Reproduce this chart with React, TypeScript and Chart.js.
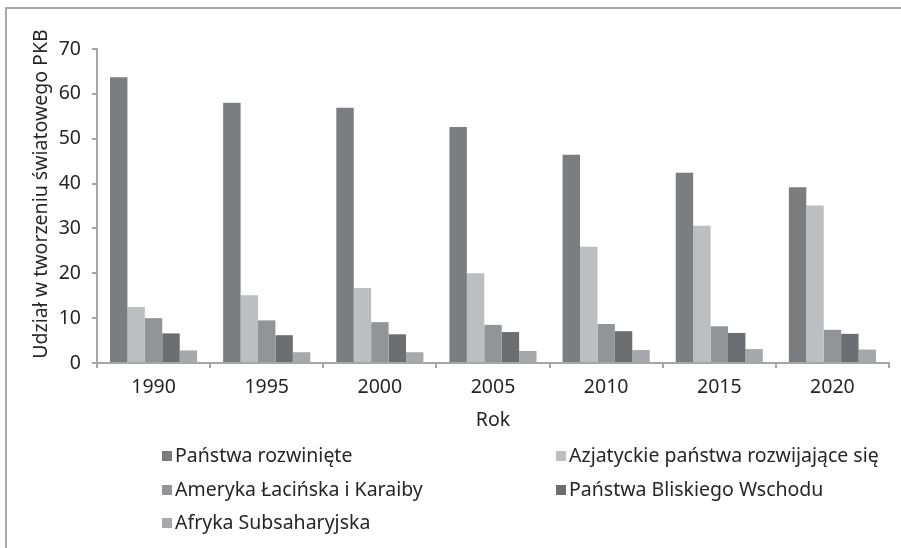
import React, { useEffect, useRef } from "react";
import { Chart, registerables } from "chart.js";

Chart.register(...registerables);

const years = ["1990", "1995", "2000", "2005", "2010", "2015", "2020"];
const developed = [63.7, 58.0, 56.9, 52.6, 46.4, 42.4, 39.2];
const asianDeveloping = [12.5, 15.1, 16.7, 20.0, 25.9, 30.6, 35.1];
const latinAmerica = [10.0, 9.5, 9.1, 8.5, 8.7, 8.2, 7.4];
const middleEast = [6.6, 6.2, 6.4, 6.9, 7.1, 6.7, 6.5];
const subSaharan = [2.8, 2.4, 2.4, 2.7, 2.9, 3.1, 3.0];

const seriesNames = [
  "Państwa rozwinięte",
  "Azjatyckie państwa rozwijające się",
  "Ameryka Łacińska i Karaiby",
  "Państwa Bliskiego Wschodu",
  "Afryka Subsaharyjska",
];
const seriesColors = ["#7c7d80", "#bdbec2", "#939497", "#6d6e71", "#a7a8ab"];
const seriesValues = [developed, asianDeveloping, latinAmerica, middleEast, subSaharan];

const yTitle = "Udział w tworzeniu światowego PKB";
const xTitle = "Rok";
const yMin = 0;
const yMax = 70;
const yStep = 10;

const FONT = "'Noto Sans', sans-serif";
const FS = 19.5;
const TEXT = "#262626";
const AXIS = "#a6a6a6";

const customPlugin = {
  id: "customText",
  afterDraw(chart: any) {
    const { ctx, chartArea } = chart;
    ctx.save();
    // Y axis title
    ctx.font = `${FS}px ${FONT}`;
    ctx.fillStyle = TEXT;
    ctx.textAlign = "center";
    ctx.textBaseline = "middle";
    ctx.translate(chartArea.left - 56, chartArea.top + 145);
    ctx.rotate(-Math.PI / 2);
    ctx.fillText(yTitle, 0, 0);
    ctx.restore();

    // Legend: two columns
    ctx.save();
    ctx.font = `${FS}px ${FONT}`;
    ctx.textAlign = "left";
    ctx.textBaseline = "middle";
    const colX = [chartArea.left + 65, chartArea.left + 459];
    const rowY = [chartArea.bottom + 93, chartArea.bottom + 127, chartArea.bottom + 160];
    seriesNames.forEach((name, i) => {
      const col = i % 2;
      const row = Math.floor(i / 2);
      const x = colX[col];
      const y = rowY[row];
      ctx.fillStyle = seriesColors[i];
      ctx.fillRect(x, y - 5, 10, 10);
      ctx.fillStyle = TEXT;
      ctx.fillText(name, x + 13, y);
    });
    ctx.restore();
  },
};

export default function App() {
  const canvasRef = useRef<HTMLCanvasElement | null>(null);

  useEffect(() => {
    const canvas = canvasRef.current;
    if (!canvas) return;
    const chart = new Chart(canvas, {
      type: "bar",
      data: {
        labels: years,
        datasets: seriesNames.map((name, i) => ({
          label: name,
          data: seriesValues[i],
          backgroundColor: seriesColors[i],
          borderWidth: 0,
          categoryPercentage: 0.77,
          barPercentage: 1,
        })),
      },
      options: {
        animation: false,
        responsive: false,
        maintainAspectRatio: false,
        layout: { padding: { top: 49, left: 0, right: 12, bottom: 110 } },
        plugins: {
          legend: { display: false },
          tooltip: { enabled: false },
        },
        scales: {
          x: {
            grid: {
              display: true,
              drawOnChartArea: false,
              drawTicks: true,
              tickLength: 5,
              color: AXIS,
              lineWidth: 2,
              offset: true,
            },
            border: { display: true, color: AXIS, width: 2 },
            ticks: {
              color: TEXT,
              font: { family: FONT, size: FS },
              padding: 8,
              maxRotation: 0,
            },
            title: {
              display: true,
              text: xTitle,
              color: TEXT,
              font: { family: FONT, size: FS },
              padding: { top: 0, bottom: 6 },
            },
            afterFit: (scale: any) => {
              scale.height = 75;
            },
          },
          y: {
            min: yMin,
            max: yMax,
            grid: {
              display: true,
              drawOnChartArea: false,
              drawTicks: true,
              tickLength: 5,
              color: AXIS,
              lineWidth: 2,
            },
            border: { display: true, color: AXIS, width: 2 },
            ticks: {
              stepSize: yStep,
              color: TEXT,
              font: { family: FONT, size: FS },
              padding: 11,
            },
            afterFit: (scale: any) => {
              scale.width = 97;
            },
          },
        },
      },
      plugins: [customPlugin],
    });
    return () => chart.destroy();
  }, []);

  return (
    <div style={{ position: "fixed", left: 0, top: 0, width: 901, height: 548, background: "#fff" }}>
      <div
        style={{
          position: "absolute",
          left: 5,
          top: 7,
          right: 0,
          bottom: 0,
          borderTop: "2px solid #a8a8a8",
          borderLeft: "2px solid #a8a8a8",
        }}
      />
      <canvas
        ref={canvasRef}
        width={901}
        height={548}
        style={{ position: "absolute", left: 0, top: 0, width: 901, height: 548 }}
      />
    </div>
  );
}
